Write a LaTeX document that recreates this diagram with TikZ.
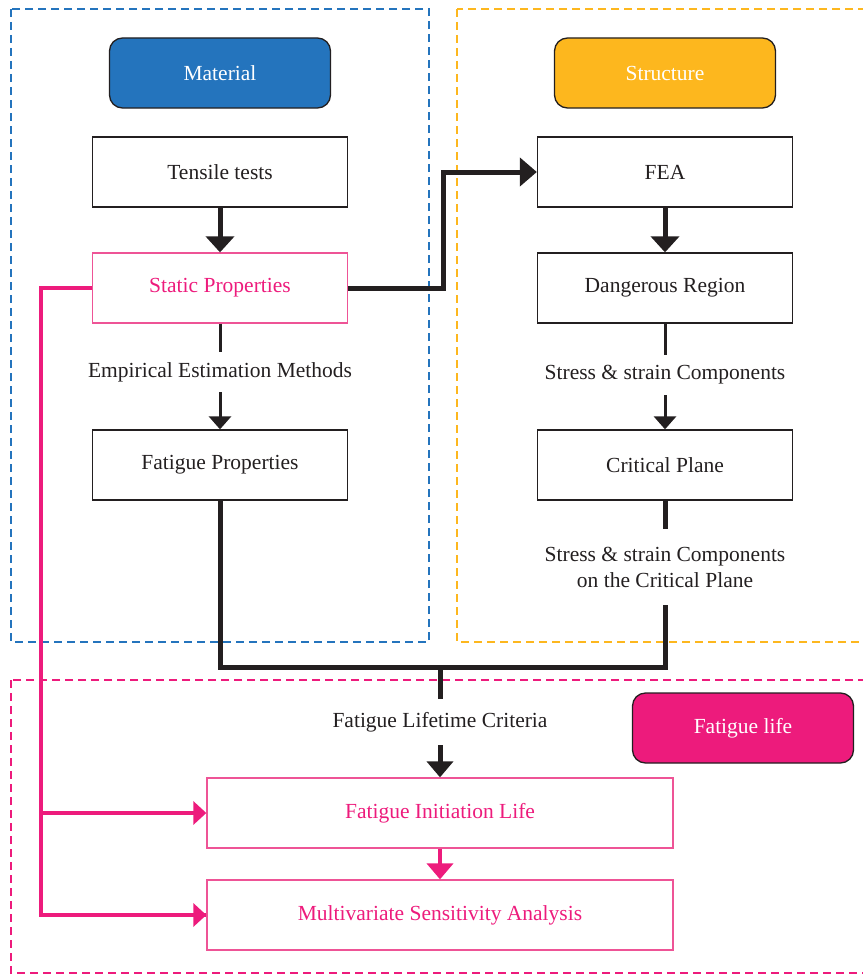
\documentclass[tikz,border=0pt]{standalone}
\usepackage{fontspec}
\setmainfont{Liberation Serif}
\usetikzlibrary{arrows.meta}
\usetikzlibrary{positioning}

\definecolor{matblue}{HTML}{2474BD}
\definecolor{strorange}{HTML}{FDB71E}
\definecolor{lifepink}{HTML}{ED1B7C}
\definecolor{boxpink}{HTML}{EE5496}
\definecolor{inkgray}{HTML}{231F20}

\tikzset{
  txt/.style={font=\fontsize{21.5}{26}\selectfont, text=inkgray},
  stepbox/.style={txt, draw=inkgray, line width=1.3pt, minimum width=255pt, minimum height=70pt},
  pinkbox/.style={stepbox, draw=boxpink, text=lifepink},
  widebox/.style={pinkbox, minimum width=466pt},
  headbox/.style={txt, draw=inkgray, line width=1.3pt, rounded corners=13pt, minimum width=221pt, minimum height=70pt, text=white},
  label/.style={txt, inner sep=0pt, align=center},
  area/.style={line width=2.5pt, dash pattern=on 8pt off 5pt},
  thinline/.style={inkgray, line width=3pt},
  thickline/.style={inkgray, line width=5pt},
  pinkline/.style={lifepink, line width=4pt},
}

\begin{document}
\begin{tikzpicture}[x=1pt, y=-1pt]
        \useasboundingbox (0,0) rectangle (862,974);
        % Dashed areas
        \draw[area, matblue] (11,9) rectangle (429,642);
        \draw[area, strorange] (457,9) rectangle (880,642);
        \draw[area, lifepink] (11,680) rectangle (880,973);
        % Headers
        \node[headbox, fill=matblue] (material) at (220,73) {Material};
        \node[headbox, fill=strorange] (structure) at (665,73) {Structure};
        \node[headbox, fill=lifepink] (fatiguelife) at (743,728) {Fatigue life};
        % Material column
        \node[stepbox] (tensile) at (220,172) {Tensile tests};
        \node[pinkbox] (static) at (220,288) {Static Properties};
        \node[label, minimum height=40pt] (empirical) at (220,372) {Empirical Estimation Methods};
        \node[stepbox] (fatigueprop) at (220,465) {Fatigue Properties};
        % Structure column
        \node[stepbox] (fea) at (665,172) {FEA};
        \node[stepbox] (danger) at (665,288) {Dangerous Region};
        \node[label, minimum height=40pt] (stresscomp) at (665,375) {Stress \& strain Components};
        \node[stepbox] (critical) at (665,465) {Critical Plane};
        \node[label, minimum height=75pt] (stresscrit) at (665,567) {Stress \& strain Components\\on the Critical Plane};
        % Fatigue life part
        \node[label, minimum height=46pt] (criteria) at (440,722) {Fatigue Lifetime Criteria};
        \node[widebox] (initiation) at (440,813) {Fatigue Initiation Life};
        \node[widebox] (sensitivity) at (440,915) {Multivariate Sensitivity Analysis};
        % Arrows inside the columns
        \draw[thickline, -{Triangle[length=16pt, width=28pt]}] (tensile) -- (static);
        \draw[thinline] (static) -- (empirical);
        \draw[thinline, -{Triangle[length=13pt, width=22pt]}] (empirical) -- (fatigueprop);
        \draw[thickline, -{Triangle[length=16pt, width=28pt]}] (fea) -- (danger);
        \draw[thinline] (danger) -- (stresscomp);
        \draw[thinline, -{Triangle[length=13pt, width=22pt]}] (stresscomp) -- (critical);
        \draw[thickline] (critical) -- (stresscrit);
        % Static properties to FEA
        \coordinate (feabend) at (443,0);
        \draw[thickline, -{Triangle[length=17pt, width=28pt]}] (static.east) -| (feabend |- fea.west) -- (fea.west);
        % Both columns meet
        \coordinate (join) at (440,667);
        \draw[thickline] (fatigueprop.south) |- (join) -| (stresscrit.south);
        \draw[thickline] (join) -- (criteria.north);
        \draw[thickline, -{Triangle[length=16pt, width=26pt]}] (criteria) -- (initiation);
        \draw[pinkline, -{Triangle[length=16pt, width=26pt]}] (initiation) -- (sensitivity);
        % Static properties feed the life results
        \draw[pinkline] (static.west) -- ++(-51,0) coordinate (pinkdrop) |- (sensitivity.west);
        \draw[pinkline, -{Triangle[length=13pt, width=23pt]}] (pinkdrop |- initiation.west) -- (initiation.west);
        \draw[pinkline, -{Triangle[length=13pt, width=23pt]}] (pinkdrop |- sensitivity.west) -- (sensitivity.west);
    \end{tikzpicture}
\end{document}
